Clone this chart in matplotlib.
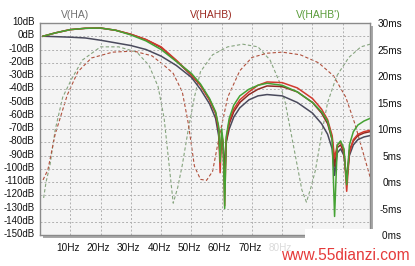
import matplotlib
matplotlib.use('Agg')
import matplotlib.pyplot as plt
from matplotlib.patches import Rectangle
import matplotlib.transforms as mtransforms

# ---------------- data ----------------
freq_mag = [1, 5, 10, 15, 20, 25, 30, 35, 40, 45, 50, 53, 56, 58, 59, 59.5, 60.0, 60.5, 61.0,
            61.5, 62.5, 64, 66, 69, 72, 75, 80, 85, 90, 93, 95, 96.5, 97.3, 98.2, 99.3,
            100.4, 101.3, 102.2, 103.5, 105, 107, 109]
mag_red = [0, 2.5, 5, 6, 6.2, 4.5, 1.5, -2.5, -8, -18, -29, -37, -48, -58, -70, -103, -74, -80, -128,
           -78, -64, -55, -48, -42, -37, -34.5, -35, -39, -47, -55, -63, -75, -92, -82, -80,
           -86, -117, -88, -78, -74, -72, -71]
mag_darkred = [0, 2.5, 5, 6, 6.2, 4.5, 1.5, -2.5, -8.5, -18.5, -29.5, -37, -48, -58, -70, -92, -76, -82, -112,
               -80, -66, -57, -50, -44, -40, -37.5, -38, -42, -50, -58, -66, -78, -98, -84, -82,
               -88, -110, -86, -79, -75, -73, -72]
mag_green = [0, 2.5, 5, 6, 6.2, 4.5, 1.0, -3.5, -10, -19, -28, -36, -47, -57, -68, -95, -70, -80, -130,
             -76, -62, -52, -45, -40, -37, -35.5, -37, -42, -50, -57, -64, -78, -136, -82, -79,
             -85, -112, -82, -72, -67, -64, -62]
mag_gray = [0, -0.3, -0.7, -1.3, -3, -5, -7, -10, -15, -22, -31, -40, -51, -62, -75, -88, -78, -82, -100,
            -80, -70, -61, -54, -48, -45, -44, -45, -50, -58, -66, -74, -85, -105, -88, -85,
            -90, -108, -90, -82, -78, -76, -75]

freq_gd_green = [1.2, 2, 3.3, 5, 7.5, 10.5, 14, 20, 26, 32, 36, 39, 41, 42.5, 44, 45.5, 47, 49, 51,
                 53, 57, 62, 67, 72, 76, 79, 81, 83, 85, 86.5, 88, 89.5, 91, 93, 95, 98, 102, 106, 109]
gd_green = [-3, 0, 3.2, 9.8, 16, 19.5, 23, 25.5, 25.5, 24.5, 22, 18, 12, 4, -4, -1, 3.2, 10, 16,
            20.8, 24, 25.5, 26, 25.5, 23, 19, 15, 9, 3, -1.5, -3.8, -1, 2.3, 9, 15, 20, 23.5, 25.5, 26]

freq_gd_red = [1, 2.6, 5, 9, 12.5, 17, 24, 31, 37, 41, 44, 47, 49, 51, 53, 55, 57, 59, 62, 66, 70,
               75, 80, 86, 92, 97, 101, 104, 106, 108, 109]
gd_red = [0.4, 2.3, 9, 16.4, 20.8, 23.4, 24.5, 24.7, 23.8, 22, 20.5, 17, 11, 3, 0.5, 0.3, 2, 8,
          16, 21, 23.5, 24.3, 24.5, 24, 22.5, 20, 16, 11, 7, 3, 1]

x_ticks = [10, 20, 30, 40, 50, 60, 70, 80, 90, 100]
x_labels = ["10Hz", "20Hz", "30Hz", "40Hz", "50Hz", "60Hz", "70Hz", "80Hz", "", ""]
db_ticks = list(range(10, -151, -10))
db_labels = [f"{v}dB" for v in db_ticks]
ms_ticks = [30, 25, 20, 15, 10, 5, 0, -5, -10]
ms_labels = [f"{v}ms" for v in ms_ticks]
legend_names = ["V(HA)", "V(HAHB)", "V(HAHB')"]

# ---------------- figure ----------------
W, H = 415, 266
plt.rcParams['font.family'] = ['Liberation Sans', 'DejaVu Sans']
fig = plt.figure(figsize=(W / 100, H / 100), dpi=100)
fig.patch.set_facecolor('white')
L, R, T, B = 40, 370, 23, 235
ax = fig.add_axes([L / W, 1 - B / H, (R - L) / W, (B - T) / H])

# shadow
fig.patches.append(Rectangle(((L + 3) / W, 1 - (B + 3) / H), (R - L) / W, (B - T) / H,
                             transform=fig.transFigure, facecolor='#a9a9a9', edgecolor='none', zorder=-5))

ax.set_xlim(0, 109)
ax.set_ylim(-150, 10)
ax.set_xticks(x_ticks)
ax.set_xticklabels(x_labels)
ax.set_yticks(db_ticks)
ax.set_yticklabels(db_labels)
ax.tick_params(length=0, labelsize=7, colors='#111111', pad=4)
ax.tick_params(axis='x', labelsize=7.2, pad=6)
ax.grid(True, color='#b0b0b0', linestyle=(0, (2, 2)), linewidth=0.7)
for s in ax.spines.values():
    s.set_color('#8a8a8a')
    s.set_linewidth(1.0)

ax2 = ax.twinx()
ax2.set_ylim(-10, 30)
ax2.set_yticks(ms_ticks)
ax2.set_yticklabels(ms_labels)
ax2.tick_params(length=0, labelsize=7.2, colors='#111111', pad=32 / 1.389)
for lab in ax2.get_yticklabels():
    lab.set_horizontalalignment('right')
for s in ax2.spines.values():
    s.set_visible(False)

# group-delay dashed curves (right axis)
ax2.plot(freq_gd_green, gd_green, color='#86a47e', lw=0.8, linestyle=(0, (3, 2)))
ax2.plot(freq_gd_red, gd_red, color='#b0503c', lw=0.8, linestyle=(0, (3, 2)))

# magnitude curves (left axis) drawn on top
ax.set_zorder(ax2.get_zorder() + 1)
ax.patch.set_visible(False)
ax2.patch.set_visible(True)
ax2.patch.set_facecolor('#f4f4f4')
ax.plot(freq_mag, mag_gray, color='#4a4a5c', lw=1.1)
ax.plot(freq_mag, mag_darkred, color='#8e2a22', lw=1.1)
ax.plot(freq_mag, mag_red, color='#d23a2e', lw=1.1)
ax.plot(freq_mag, mag_green, color='#45a233', lw=1.1)

# label offsets
off_up = mtransforms.ScaledTranslation(0, 2 / 100, fig.dpi_scale_trans)
for lab in ax.get_yticklabels():
    lab.set_transform(lab.get_transform() + off_up)
off_left = mtransforms.ScaledTranslation(-2 / 100, 0, fig.dpi_scale_trans)
for lab in ax.get_xticklabels():
    lab.set_transform(lab.get_transform() + off_left)

# legend titles
fig.text(75 / W, 1 - 15 / H, legend_names[0], color='#707070', fontsize=7.5, ha='center', va='center')
fig.text(211 / W, 1 - 15 / H, legend_names[1], color='#9c2a22', fontsize=7.5, ha='center', va='center')
fig.text(318 / W, 1 - 15 / H, legend_names[2], color='#5a9c3a', fontsize=7.5, ha='center', va='center')

# watermark area
fig.patches.append(Rectangle((262 / W, 0), 43 / W, 1 - 240 / H, transform=fig.transFigure,
                             facecolor='white', alpha=0.85, edgecolor='none', zorder=10))
fig.patches.append(Rectangle((305 / W, 0), 77 / W, 1 - 229 / H, transform=fig.transFigure,
                             facecolor='white', edgecolor='none', zorder=10))
fig.text(345 / W, 1 - 256 / H, "www.55dianzi.com", color='#e53a3a', fontsize=11.2,
         ha='center', va='center', zorder=11)

fig.savefig('out.png', dpi=100)
